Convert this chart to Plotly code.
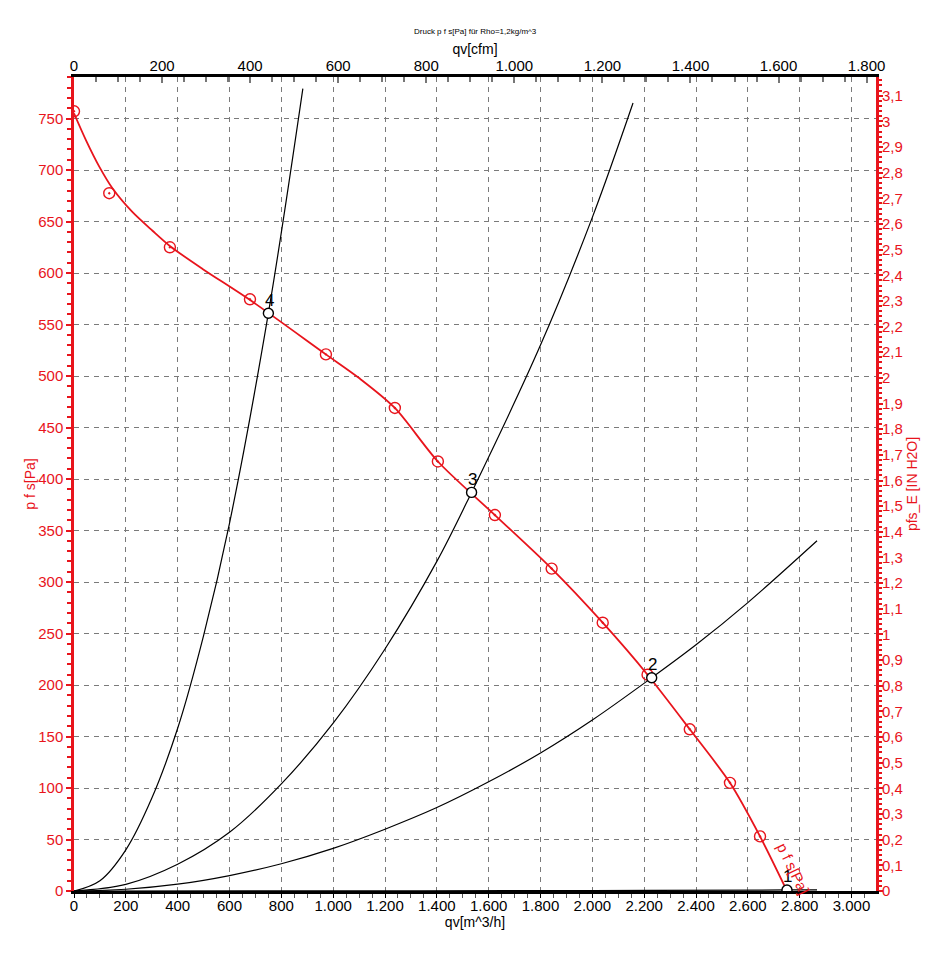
import plotly.graph_objects as go

# ---- data ----
# fan curve p f s [Pa] vs qv [m^3/h]
fan_q = [0, 46, 98, 149, 226, 303, 371, 496, 678, 972, 1100, 1238, 1404, 1624, 1843, 2040, 2213, 2376, 2531, 2647, 2751]
fan_p = [755, 729, 703, 682, 659, 641, 626, 604, 574, 521, 498, 469, 417, 365, 313, 260.5, 210, 157, 105, 53, 0]
# measured points on fan curve
meas_q = [0, 136, 370, 679, 972, 1238, 1404, 1624, 1843, 2040, 2213, 2376, 2531, 2647]
meas_p = [757, 677.5, 625, 574.5, 521, 469, 417, 365, 313, 260.5, 210, 157, 105, 53]
# system curves
sys4_q = [0, 100, 200, 300, 400, 500, 600, 750, 883]
sys4_p = [0, 10, 40, 90, 158, 248, 357, 561, 779]
sys3_q = [0, 200, 400, 600, 800, 1000, 1200, 1400, 1534, 1800, 2000, 2157]
sys3_p = [0, 6.5, 26, 57, 104, 163, 235, 320, 387, 530, 654, 765]
sys2_q = [0, 200, 400, 600, 800, 1000, 1200, 1400, 1600, 1800, 2000, 2229, 2400, 2600, 2867]
sys2_p = [0, 1.7, 6.6, 15, 26.5, 41.4, 60, 81, 106, 134, 166, 207, 239, 280, 340]
sys1_q = [0, 1000, 2000, 2751, 2867]
sys1_p = [0, 0.1, 0.5, 1, 1.1]
# operating points
op_q = [2751, 2229, 1534, 750]
op_p = [1, 207, 387, 561]
op_lbl = ["1", "2", "3", "4"]

# axis settings
x_max = 3094.5
y_max = 790.3
CFM = 1.699011   # m^3/h per cfm
INH2O = 249.089  # Pa per inch H2O

RED = "#e8141c"
FONT = "Liberation Sans, Arial, sans-serif"

fig = go.Figure()

for q, p in [(sys1_q, sys1_p), (sys2_q, sys2_p), (sys3_q, sys3_p), (sys4_q, sys4_p)]:
    fig.add_trace(go.Scatter(x=q, y=p, mode="lines", line=dict(color="black", width=1.2, shape="spline"),
                             showlegend=False, hoverinfo="skip"))

fig.add_trace(go.Scatter(x=fan_q, y=fan_p, mode="lines", line=dict(color=RED, width=1.8, shape="spline", smoothing=0.8),
                         showlegend=False))
fig.add_trace(go.Scatter(x=meas_q, y=meas_p, mode="markers",
                         marker=dict(symbol="circle-open-dot", size=11, color=RED, line=dict(width=1.4, color=RED)),
                         showlegend=False))
fig.add_trace(go.Scatter(x=op_q, y=op_p, mode="markers",
                         marker=dict(symbol="circle", size=10, color="white", line=dict(width=1.4, color="black")),
                         showlegend=False))

for q, p, t in zip(op_q, op_p, op_lbl):
    fig.add_annotation(x=q, y=p, text=t, showarrow=False, yshift=13, xshift=1,
                       font=dict(size=17, color="black", family=FONT))

# curve label
fig.add_annotation(x=2775, y=22, text="p f s[Pa]", showarrow=False, textangle=64,
                   font=dict(size=15, color=RED, family=FONT))

# invisible traces for secondary axes
fig.add_trace(go.Scatter(x=[0, x_max / CFM], y=[0, 0], xaxis="x2", yaxis="y", mode="lines",
                         line=dict(width=0), opacity=0, showlegend=False, hoverinfo="skip"))
fig.add_trace(go.Scatter(x=[0, x_max], y=[0, y_max / INH2O], xaxis="x", yaxis="y2", mode="lines",
                         line=dict(width=0), opacity=0, showlegend=False, hoverinfo="skip"))

grid = dict(showgrid=True, gridcolor="#7a7a7a", gridwidth=1, griddash="5px,5px")

# page body has an 8px default margin, so the figure is shrunk by 8px to land on the same pixels
fig.update_layout(
    width=940, height=957,
    margin=dict(l=66, r=72, t=69, b=74),
    paper_bgcolor="white", plot_bgcolor="white",
    separators=",.",
    font=dict(family=FONT, size=14, color="black"),
    xaxis=dict(range=[0, x_max], dtick=200, tick0=0, tickformat=",d", **grid, zeroline=False,
               showline=True, linecolor="black", linewidth=3,
               ticks="outside", ticklen=4, tickcolor="black", tickwidth=1,
               minor=dict(dtick=50, ticks="outside", ticklen=4, tickcolor="#555", showgrid=False),
               ticklabelstandoff=-5,
               tickfont=dict(size=15, color="black"),
               title=dict(text="qv[m^3/h]", font=dict(size=14, color="black"), standoff=0)),
    xaxis2=dict(range=[0, x_max / CFM], overlaying="x", side="top", dtick=200, tick0=0, tickformat=",d",
                showgrid=False, zeroline=False, showline=True, linecolor="black", linewidth=3,
                ticks="inside", ticklen=6, tickcolor="#777", tickwidth=2,
                minor=dict(dtick=50, ticks="inside", ticklen=5, tickcolor="#777"),
                ticklabelstandoff=-3,
                tickfont=dict(size=15, color="black"),
                title=dict(text="qv[cfm]", font=dict(size=14, color="black"), standoff=0)),
    yaxis=dict(range=[0, y_max], dtick=50, tick0=0, **grid, zeroline=False,
               showline=True, linecolor=RED, linewidth=2.5,
               ticks="outside", ticklen=5, tickcolor=RED, tickwidth=2,
               minor=dict(dtick=10, ticks="outside", ticklen=4, tickcolor=RED, showgrid=False),
               tickfont=dict(size=15, color=RED),
               title=dict(text="p f s[Pa]", font=dict(size=14, color=RED), standoff=0)),
    yaxis2=dict(range=[0, y_max / INH2O], overlaying="y", side="right", dtick=0.1, tick0=0,
                showgrid=False, zeroline=False, showline=True, linecolor=RED, linewidth=3,
                ticks="outside", ticklen=4, tickcolor=RED, tickwidth=2,
                minor=dict(dtick=0.02, ticks="outside", ticklen=3, tickcolor=RED),
                ticklabelstandoff=-4,
                tickfont=dict(size=15, color=RED),
                title=dict(text="pfs_E [IN H2O]", font=dict(size=14, color=RED), standoff=6)),
)

fig.add_annotation(xref="paper", yref="paper", x=0.5, y=1.0, yshift=52, text="Druck p f s[Pa] für Rho=1,2kg/m^3",
                   showarrow=False, font=dict(size=8, color="black", family=FONT))

fig.write_html("out.html")
